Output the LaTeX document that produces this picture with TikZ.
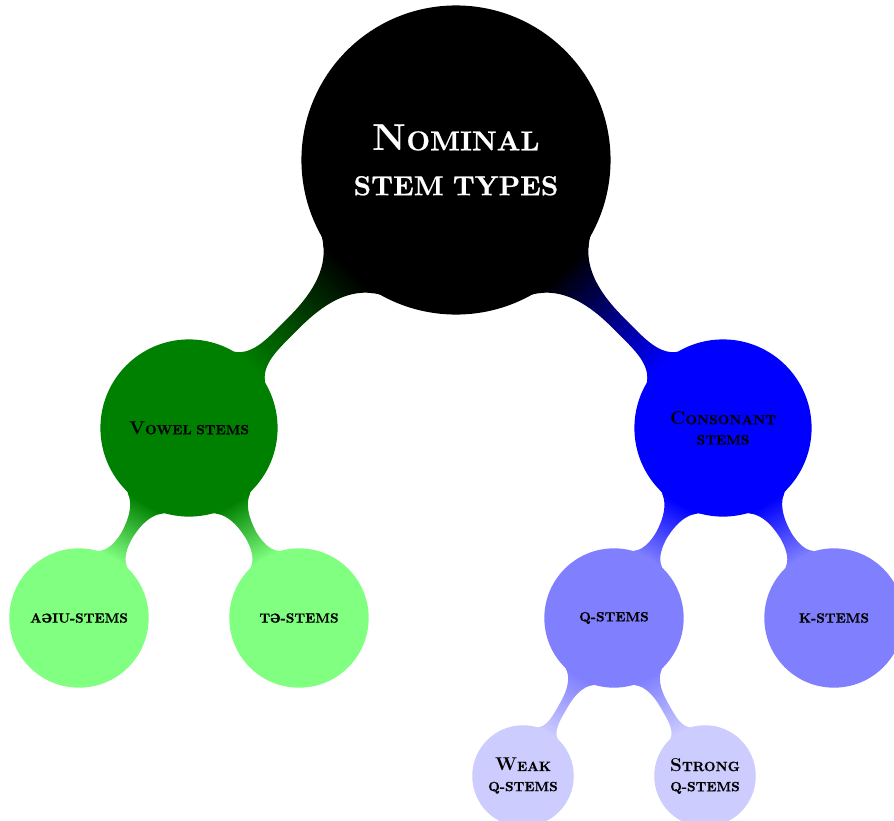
\documentclass[tikz,border=0pt]{standalone}
\usepackage{fontspec}
\usepackage{graphicx}
\usetikzlibrary{mindmap,backgrounds}
% bold face for the labels; the reduced capitals get a little extra weight
\newfontfamily\labelfont{lmroman10-bold.otf}[FakeBold=0.6]
\newfontfamily\initialfont{lmroman10-bold.otf}
% bold capitals for the first letter of a label
\newcommand\rootcap{\initialfont\fontsize{14}{16.7}\selectfont}
\newcommand\leafcap{\initialfont\fontsize{6.9}{7.5}\selectfont}
% turned e, used as a small capital schwa
\newcommand\schwacap{\rotatebox[origin=c]{180}{\fontsize{7.4}{7.4}\selectfont e}}
\begin{document}
\begin{tikzpicture}[x=0.0130719cm, y=-0.0130719cm, mindmap,
  bubble/.style={concept, circle, inner sep=0pt, align=center, text width=#1},
  rootbubble/.style={bubble=3.6cm, concept color=black, text=white, minimum size=4cm,
    font=\labelfont\fontsize{10.2}{16.7}\selectfont},
  levelone/.style={bubble=2.1cm, minimum size=2.275cm, text=black,
    font=\labelfont\fontsize{5.0}{7.5}\selectfont},
  leveltwo/.style={bubble=1.7cm, minimum size=1.78cm, text=black,
    font=\labelfont\fontsize{5.0}{7.5}\selectfont},
  levelthree/.style={bubble=1.2cm, minimum size=1.23cm, text=black,
    font=\labelfont\fontsize{5.0}{7.5}\selectfont},
]
\useasboundingbox (0,0) rectangle (894,821);

\node[rootbubble] (root) at (456,160) {{\rootcap N}OMINAL\\STEM TYPES};

\node[levelone, concept color=green!50!black] (vowel) at (189,428) {{\leafcap V}OWEL STEMS};
\node[levelone, concept color=blue] (cons) at (723,428) {{\leafcap C}ONSONANT\\STEMS};

\node[leveltwo, concept color=green!50] (aiu) at (79,618) {A\schwacap IU-STEMS};
\node[leveltwo, concept color=green!50] (te) at (299,618) {T\schwacap-STEMS};
\node[leveltwo, concept color=blue!50] (q) at (614,618) {Q-STEMS};
\node[leveltwo, concept color=blue!50] (k) at (834,618) {K-STEMS};

\node[levelthree, concept color=blue!20] (weak) at (523,776) {{\leafcap W}EAK\\Q-STEMS};
\node[levelthree, concept color=blue!20] (strong) at (705,776) {{\leafcap S}TRONG\\Q-STEMS};

\begin{pgfonlayer}{background}
  \path (root) to[circle connection bar switch color=from (black) to (green!50!black)] (vowel);
  \path (root) to[circle connection bar switch color=from (black) to (blue)] (cons);
  \path (vowel) to[circle connection bar switch color=from (green!50!black) to (green!50)] (aiu);
  \path (vowel) to[circle connection bar switch color=from (green!50!black) to (green!50)] (te);
  \path (cons) to[circle connection bar switch color=from (blue) to (blue!50)] (q);
  \path (cons) to[circle connection bar switch color=from (blue) to (blue!50)] (k);
  \path (q) to[circle connection bar switch color=from (blue!50) to (blue!20)] (weak);
  \path (q) to[circle connection bar switch color=from (blue!50) to (blue!20)] (strong);
\end{pgfonlayer}
\end{tikzpicture}
\end{document}
